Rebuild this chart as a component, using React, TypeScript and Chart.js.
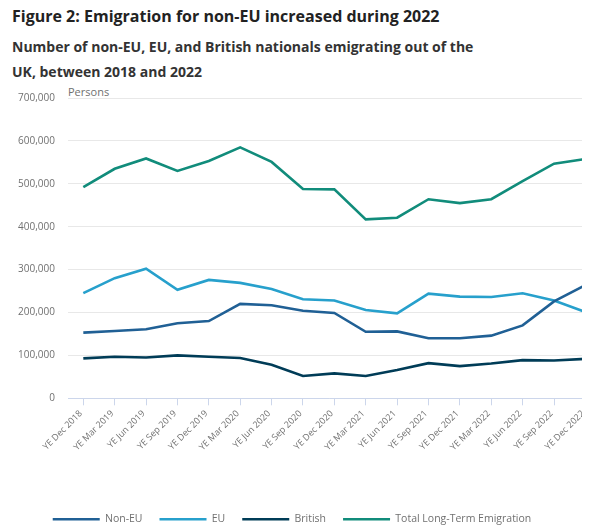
import React, { useEffect, useRef } from "react";
import { Chart, registerables } from "chart.js";

Chart.register(...registerables);

const categories = [
  "YE Dec 2018", "YE Mar 2019", "YE Jun 2019", "YE Sep 2019", "YE Dec 2019",
  "YE Mar 2020", "YE Jun 2020", "YE Sep 2020", "YE Dec 2020", "YE Mar 2021",
  "YE Jun 2021", "YE Sep 2021", "YE Dec 2021", "YE Mar 2022", "YE Jun 2022",
  "YE Sep 2022", "YE Dec 2022",
];

const nonEU = [153000, 157000, 161000, 175000, 180000, 220000, 217000, 204000, 199000, 155000, 156000, 140000, 140000, 146000, 170000, 226000, 264000];
const eu = [245000, 280000, 302000, 253000, 276000, 269000, 255000, 231000, 228000, 206000, 198000, 244000, 237000, 236000, 245000, 228000, 201000];
const british = [93000, 97000, 95000, 100000, 97000, 94000, 78000, 52000, 58000, 52000, 66000, 82000, 75000, 81000, 89000, 88000, 92000];
const total = [492000, 535000, 559000, 530000, 553000, 585000, 551000, 488000, 487000, 417000, 421000, 464000, 455000, 464000, 506000, 547000, 558000];

const seriesNames = ["Non-EU", "EU", "British", "Total Long-Term Emigration"];
const seriesColors = ["#206095", "#27a0cc", "#003c57", "#118c7b"];
const yTicks = [0, 100000, 200000, 300000, 400000, 500000, 600000, 700000];

const FONT = "'Open Sans', 'Noto Sans', sans-serif";

export default function App() {
  const canvasRef = useRef<HTMLCanvasElement | null>(null);

  useEffect(() => {
    const prevMargin = document.body.style.marginBottom;
    document.body.style.marginBottom = "0px";
    const canvas = canvasRef.current;
    if (!canvas) return;
    const seriesValues = [nonEU, eu, british, total];
    const chart = new Chart(canvas, {
      type: "line",
      data: {
        datasets: seriesValues.map((vals, si) => ({
          label: seriesNames[si],
          data: vals.map((v, i) => ({ x: i, y: v })),
          borderColor: seriesColors[si],
          backgroundColor: seriesColors[si],
          borderWidth: 2.6,
          pointRadius: 0,
          pointHoverRadius: 0,
          tension: 0,
          fill: false,
        })),
      },
      options: {
        animation: false,
        responsive: false,
        devicePixelRatio: 1,
        layout: { padding: { top: 10.7, left: 0, right: 0, bottom: 0 } },
        font: { family: FONT },
        scales: {
          x: {
            type: "linear",
            min: -0.488,
            max: 16.147,
            afterFit: (scale: any) => {
              scale.paddingLeft = 0;
              scale.paddingRight = 0;
              scale.height = 98.7;
            },
            ticks: {
              stepSize: 1,
              autoSkip: false,
              includeBounds: false,
              minRotation: 45,
              maxRotation: 45,
              padding: 3,
              labelOffset: -2.4,
              color: "#707070",
              font: { family: FONT, size: 9 },
              callback: (v: any) => {
                const idx = Number(v);
                return Number.isInteger(idx) && categories[idx] ? categories[idx] : "";
              },
            },
            grid: {
              display: true,
              drawOnChartArea: false,
              drawTicks: true,
              tickLength: 7,
              color: "#ccd6eb",
            },
            border: { display: true, color: "#ccd6eb", width: 1 },
          },
          y: {
            min: 0,
            max: 700000,
            afterFit: (scale: any) => {
              scale.width = 74;
            },
            afterBuildTicks: (scale: any) => {
              scale.ticks = yTicks.map((v) => ({ value: v }));
            },
            ticks: {
              padding: 13,
              color: "#707070",
              font: { family: FONT, size: 10 },
              callback: (v: any) => Number(v).toLocaleString("en-GB"),
            },
            grid: {
              color: "#e8e8e8",
              lineWidth: 1,
              drawTicks: false,
            },
            border: { display: false },
          },
        },
        plugins: {
          tooltip: { enabled: false },
          title: { display: false },
          legend: {
            display: true,
            position: "bottom",
            align: "center",
            maxHeight: 32,
            labels: {
              usePointStyle: true,
              pointStyle: "line",
              pointStyleWidth: 47,
              boxWidth: 47,
              boxHeight: 10.5,
              padding: 17,
              color: "#707070",
              font: { family: FONT, size: 10.5 },
            },
          },
        },
      },
    });
    return () => {
      chart.destroy();
      document.body.style.marginBottom = prevMargin;
    };
  }, []);

  return (
    <div style={{ position: "relative", width: 574, height: 521, fontFamily: FONT }}>
      <div
        style={{
          position: "absolute",
          left: 4,
          top: -3,
          fontSize: 16,
          lineHeight: "22px",
          fontWeight: 700,
          color: "#222222",
          whiteSpace: "nowrap",
        }}
      >
        Figure 2: Emigration for non-EU increased during 2022
      </div>
      <div
        style={{
          position: "absolute",
          left: 4,
          top: 26,
          fontSize: 14,
          lineHeight: "25px",
          fontWeight: 700,
          color: "#333333",
          whiteSpace: "nowrap",
        }}
      >
        Number of non-EU, EU, and British nationals emigrating out of the
        <br />
        UK, between 2018 and 2022
      </div>
      <div
        style={{
          position: "absolute",
          left: 60,
          top: 77,
          fontSize: 11,
          lineHeight: "14px",
          color: "#707070",
        }}
      >
        Persons
      </div>
      <div style={{ position: "absolute", left: -14, top: 71, width: 596, height: 450 }}>
        <canvas ref={canvasRef} width={596} height={450} style={{ width: 596, height: 450, display: "block" }} />
      </div>
    </div>
  );
}
